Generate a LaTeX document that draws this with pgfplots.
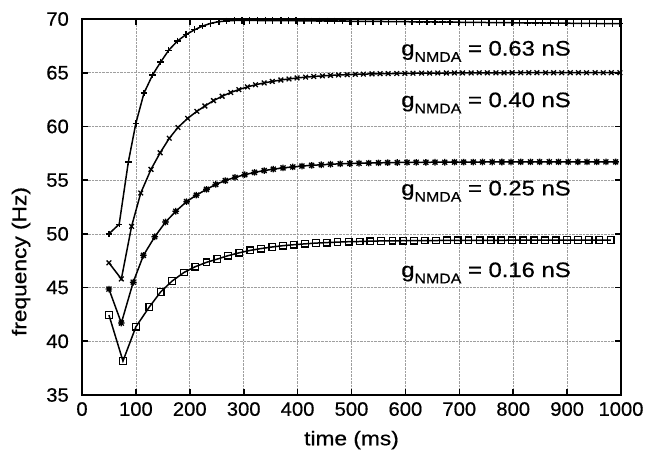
\documentclass[border=0pt]{standalone}
\usepackage{fontspec}
\setmainfont{Liberation Sans}[FakeStretch=1.14, FakeBold=0.6]
\newfontfamily\tickfont{Liberation Sans}[FakeStretch=1.04, FakeBold=0.6]
\usepackage{pgfplots}
\pgfplotsset{compat=1.18}
\pgfdeclareplotmark{gstar}{%
 \pgfpathmoveto{\pgfqpoint{-\pgfplotmarksize}{0pt}}\pgfpathlineto{\pgfqpoint{\pgfplotmarksize}{0pt}}%
 \pgfpathmoveto{\pgfqpoint{0pt}{-\pgfplotmarksize}}\pgfpathlineto{\pgfqpoint{0pt}{\pgfplotmarksize}}%
 \pgfpathmoveto{\pgfqpoint{-.75\pgfplotmarksize}{-.75\pgfplotmarksize}}\pgfpathlineto{\pgfqpoint{.75\pgfplotmarksize}{.75\pgfplotmarksize}}%
 \pgfpathmoveto{\pgfqpoint{-.75\pgfplotmarksize}{.75\pgfplotmarksize}}\pgfpathlineto{\pgfqpoint{.75\pgfplotmarksize}{-.75\pgfplotmarksize}}%
 \pgfusepathqstroke}
\begin{document}
\begin{tikzpicture}
\useasboundingbox (-82bp,-57bp) rectangle (563bp,395bp);
\begin{axis}[
 scale only axis, width=539bp, height=376bp,
 xmin=0, xmax=1000, ymin=35, ymax=70,
 xtick={0,100,...,1000}, ytick={35,40,...,70},
 tick align=inside, major tick length=6bp,
 every tick/.style={black, line width=1.6bp},
 axis line style={line width=2.6bp},
 grid=major, grid style={densely dotted, gray!75, line width=0.7bp},
 tick label style={font=\tickfont\fontsize{19.5}{23}\selectfont, /pgf/number format/assume math mode=true},
 /pgf/number format/1000 sep={},
 yticklabel style={inner sep=0pt, xshift=-13bp},
 xticklabel style={inner sep=0pt, yshift=-7bp},
 xlabel={time (ms)}, ylabel={frequency (Hz)},
 label style={font=\fontsize{20}{24}\selectfont, inner sep=0pt},
 xlabel style={at={(axis description cs:0.5,-0.12)}, anchor=center},
 ylabel style={at={(axis description cs:-0.113,0.355)}, anchor=center},
 clip=false,
 every axis plot/.append style={black, line width=1.5bp, mark size=3.3bp, mark options={solid, line width=1.3bp}},
]
% g_NMDA = 0.63 nS
\addplot[mark=+] table {
50 50.0
69 50.9
86 56.7
100 60.3
115 63.1
131 64.8
146 66.0
161 67.1
177 67.95
193 68.55
209 69.0
224 69.35
239 69.6
254 69.75
268 69.82
283 69.86
297 69.87
311 69.87
326 69.86
340 69.86
354 69.85
369 69.85
383 69.84
397 69.84
412 69.83
426 69.83
440 69.82
455 69.81
469 69.81
483 69.80
497 69.79
512 69.79
526 69.78
540 69.77
555 69.77
569 69.76
583 69.75
598 69.75
612 69.74
626 69.73
640 69.73
655 69.72
669 69.71
683 69.71
698 69.70
712 69.69
726 69.69
741 69.68
755 69.67
769 69.67
783 69.66
798 69.65
812 69.65
826 69.64
841 69.63
855 69.63
869 69.62
884 69.61
898 69.61
912 69.60
927 69.59
941 69.59
955 69.58
969 69.57
984 69.57
998 69.56
};
% g_NMDA = 0.40 nS
\addplot[mark=x] table {
50 47.3
73 45.8
92 50.7
109 53.8
128 56.0
145 57.55
162 58.9
178 59.9
196 60.75
213 61.4
228 61.9
244 62.4
260 62.81
276 63.16
291 63.43
307 63.68
322 63.88
338 64.05
353 64.19
369 64.32
384 64.42
399 64.51
415 64.59
430 64.65
446 64.70
461 64.75
476 64.79
492 64.82
507 64.85
522 64.87
538 64.89
553 64.91
568 64.92
584 64.93
599 64.94
614 64.95
630 64.96
645 64.96
660 64.97
676 64.97
691 64.98
706 64.98
722 64.98
737 64.99
752 64.99
768 64.99
783 64.99
798 65.0
814 65.0
829 65.0
844 65.0
860 65.0
875 65.0
890 65.0
906 65.0
921 65.0
936 65.0
952 65.0
967 65.0
982 65.0
998 65.0
};
% g_NMDA = 0.25 nS
\addplot[mark=gstar] table {
50 44.86
73 41.7
95 45.5
114 48.0
135 49.73
155 51.1
174 52.1
194 53.0
212 53.6
231 54.14
248 54.6
266 54.96
284 55.26
302 55.51
320 55.72
338 55.89
355 56.02
373 56.14
391 56.23
408 56.31
426 56.38
444 56.43
461 56.48
479 56.52
497 56.55
514 56.57
532 56.59
550 56.61
567 56.63
585 56.64
603 56.65
620 56.66
638 56.66
655 56.67
673 56.67
691 56.68
708 56.68
726 56.68
743 56.69
761 56.69
779 56.69
796 56.69
814 56.7
832 56.7
849 56.7
867 56.7
884 56.7
902 56.7
920 56.7
937 56.7
955 56.7
972 56.7
990 56.7
};
% g_NMDA = 0.16 nS
\addplot[mark=square] table {
50 42.44
76 38.16
100 41.35
125 43.2
146 44.6
167 45.6
189 46.4
210 46.94
231 47.35
251 47.65
271 47.97
292 48.24
312 48.46
332 48.63
353 48.78
373 48.90
393 48.99
414 49.07
434 49.14
454 49.19
474 49.23
495 49.27
515 49.29
535 49.32
555 49.34
576 49.35
596 49.36
616 49.37
636 49.38
657 49.38
677 49.39
697 49.39
717 49.40
738 49.40
758 49.40
778 49.40
798 49.41
819 49.41
839 49.41
859 49.41
879 49.41
900 49.42
920 49.42
940 49.42
960 49.42
981 49.42
};
\node[anchor=base west, inner sep=0pt, font=\fontsize{21}{24}\selectfont] at (axis cs:592,66.6) {g\raisebox{-0.3em}{\fontsize{14}{15}\selectfont NMDA} = 0.63 nS};
\node[anchor=base west, inner sep=0pt, font=\fontsize{21}{24}\selectfont] at (axis cs:592,61.8) {g\raisebox{-0.3em}{\fontsize{14}{15}\selectfont NMDA} = 0.40 nS};
\node[anchor=base west, inner sep=0pt, font=\fontsize{21}{24}\selectfont] at (axis cs:592,53.58) {g\raisebox{-0.3em}{\fontsize{14}{15}\selectfont NMDA} = 0.25 nS};
\node[anchor=base west, inner sep=0pt, font=\fontsize{21}{24}\selectfont] at (axis cs:592,45.98) {g\raisebox{-0.3em}{\fontsize{14}{15}\selectfont NMDA} = 0.16 nS};
\end{axis}
\end{tikzpicture}
\end{document}
